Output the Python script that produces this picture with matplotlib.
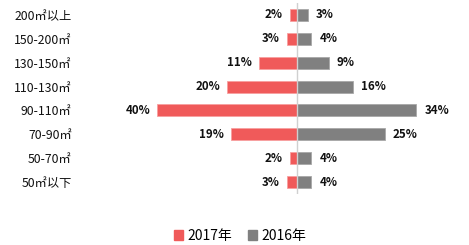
import matplotlib
matplotlib.use("Agg")
import matplotlib.pyplot as plt
from matplotlib.patches import Patch

plt.rcParams['font.family'] = ['Noto Sans CJK SC', 'DejaVu Sans']

categories = ['200㎡以上', '150-200㎡', '130-150㎡', '110-130㎡',
              '90-110㎡', '70-90㎡', '50-70㎡', '50㎡以下']
values_2017 = [2, 3, 11, 20, 40, 19, 2, 3]
values_2016 = [3, 4, 9, 16, 34, 25, 4, 4]
series_names = ['2017年', '2016年']

red = '#F05A5A'
gray = '#808080'

W, H = 469, 245
fig = plt.figure(figsize=(W / 100, H / 100), dpi=100)

center_px = 297
scale = 3.5
ax_left_px, ax_right_px = 80, 465
top_px, bottom_px = 3, 194
ax = fig.add_axes([ax_left_px / W, 1 - bottom_px / H,
                   (ax_right_px - ax_left_px) / W, (bottom_px - top_px) / H])
ax.set_xlim((ax_left_px - center_px) / scale, (ax_right_px - center_px) / scale)
ax.set_ylim(len(categories) - 0.5, -0.5)

y = list(range(len(categories)))
ax.barh(y, [-v for v in values_2017], height=0.5, color=red, edgecolor='#F8A0A0', linewidth=0.6)
ax.barh(y, values_2016, height=0.5, color=gray, edgecolor='#A8A8A8', linewidth=0.6)
ax.axvline(0, color='#D0D0D0', linewidth=1.0)

for yi, v in zip(y, values_2017):
    ax.annotate(f'{v}%', (-v, yi), xytext=(-5, 0), textcoords='offset points',
                ha='right', va='center', fontsize=8.3, fontweight='bold', color='#111111')
for yi, v in zip(y, values_2016):
    ax.annotate(f'{v}%', (v, yi), xytext=(6, 0), textcoords='offset points',
                ha='left', va='center', fontsize=8.3, fontweight='bold', color='#111111')

ax.set_yticks(y)
ax.set_yticklabels(categories, fontsize=8.8, color='#111111')
ax.tick_params(axis='y', length=0, pad=6)
ax.set_xticks([])
for s in ax.spines.values():
    s.set_visible(False)

handles = [Patch(color=red), Patch(color=gray)]
fig.legend(handles, series_names, loc='center', bbox_to_anchor=(240 / W, 1 - 236 / H),
           ncol=2, frameon=False, fontsize=10, handlelength=0.65, handleheight=0.65,
           handletextpad=0.35, columnspacing=1.1)

fig.savefig('out.png', dpi=100)
